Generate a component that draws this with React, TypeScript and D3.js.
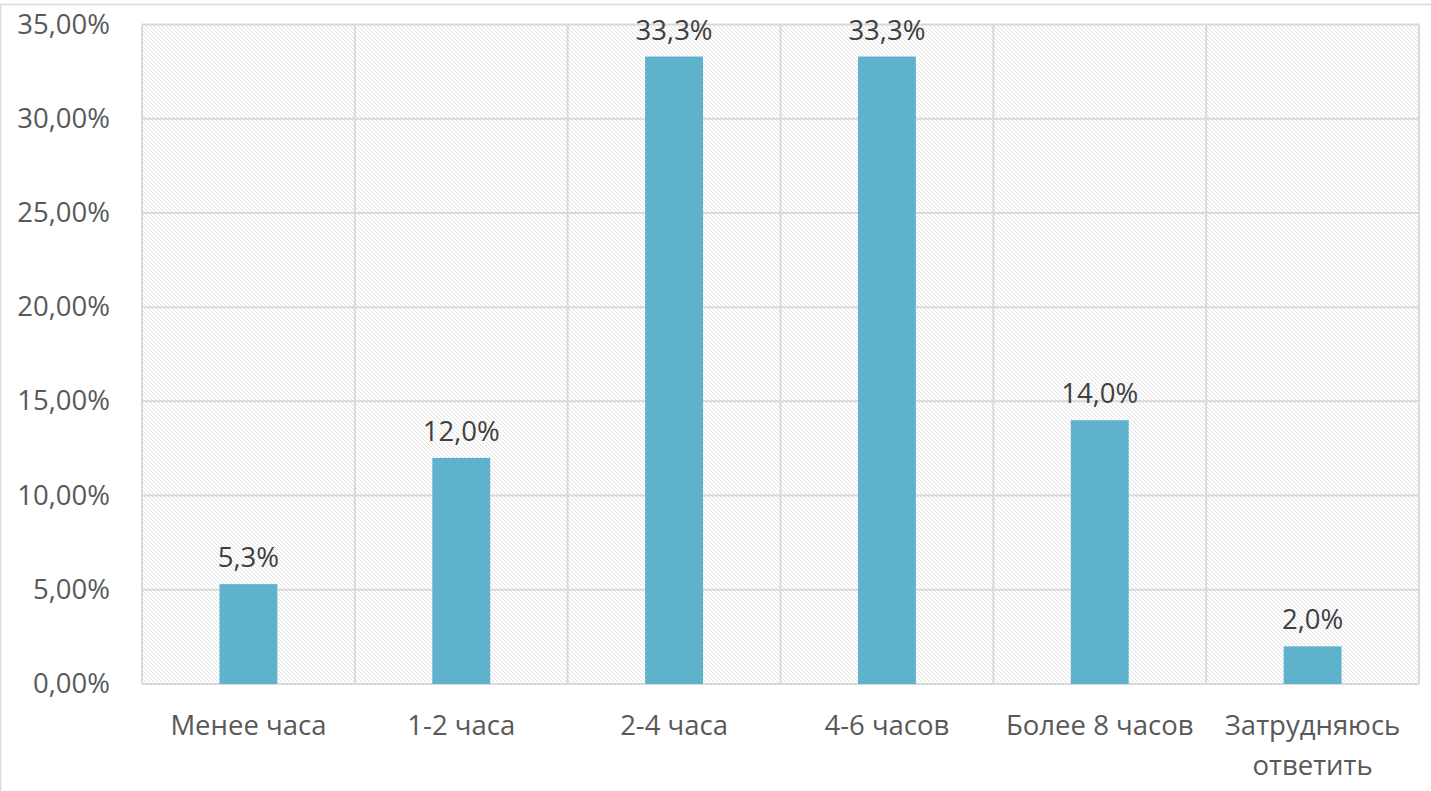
import React from 'react';
import * as d3 from 'd3';

const categories = ['Менее часа', '1-2 часа', '2-4 часа', '4-6 часов', 'Более 8 часов', 'Затрудняюсь ответить'];
const values = [5.3, 12.0, 33.3, 33.3, 14.0, 2.0];
const yTicks = [0, 5, 10, 15, 20, 25, 30, 35];

const W = 1431;
const H = 791;
const margin = { top: 24.5, right: 12, bottom: 107, left: 142 };
const font = '"Open Sans", "Noto Sans", sans-serif';

// split long category labels the way Excel wraps them
function wrapLabel(s: string): string[] {
  if (s.length > 14) return s.split(' ');
  return [s];
}

const App = () => {
  const x = d3.scaleBand().domain(categories).range([margin.left, W - margin.right]).paddingInner(0).paddingOuter(0);
  const y = d3.scaleLinear().domain([0, 35]).range([H - margin.bottom, margin.top]);
  const barW = x.bandwidth() * 0.272;
  const fmtTick = (v: number) => v.toFixed(2).replace('.', ',') + '%';
  const fmtVal = (v: number) => v.toFixed(1).replace('.', ',') + '%';

  return (
    <svg width={W} height={H} style={{ display: 'block', position: 'absolute', left: 0, top: 0 }}>
      <defs>
        <pattern id="hatch" width="4" height="4" patternUnits="userSpaceOnUse">
          <path d="M-1,-1 L5,5 M3,-1 L5,1 M-1,3 L1,5" stroke="#e0e0e0" strokeWidth="1" />
        </pattern>
      </defs>
      <rect x={0} y={0} width={W} height={H} fill="#fff" />
      <rect x={0.5} y={4.5} width={W + 2} height={H} fill="none" stroke="#d9d9d9" strokeWidth={1.5} />
      <rect x={margin.left} y={margin.top} width={W - margin.left - margin.right} height={H - margin.top - margin.bottom} fill="url(#hatch)" />
      {yTicks.map(t => (
        <line key={t} x1={margin.left} x2={W - margin.right} y1={y(t)} y2={y(t)} stroke="#d9d9d9" strokeWidth={2} />
      ))}
      {categories.map(c => (
        <line key={c} x1={x(c)!} x2={x(c)!} y1={margin.top} y2={H - margin.bottom} stroke="#d9d9d9" strokeWidth={2} />
      ))}
      <line x1={W - margin.right} x2={W - margin.right} y1={margin.top} y2={H - margin.bottom} stroke="#d9d9d9" strokeWidth={2} />
      {yTicks.map(t => (
        <text key={t} x={110} y={y(t) + 9} textAnchor="end" fontFamily={font} fontSize={27.5} fill="#595959">
          {fmtTick(t)}
        </text>
      ))}
      {values.map((v, i) => {
        const cx = x(categories[i])! + x.bandwidth() / 2;
        return (
          <g key={i}>
            <rect x={cx - barW / 2} y={y(v)} width={barW} height={y(0) - y(v)} fill="#5fb2cc" />
            <text x={cx} y={y(v) - 17} textAnchor="middle" fontFamily={font} fontSize={27.5} fill="#404040">
              {fmtVal(v)}
            </text>
          </g>
        );
      })}
      {categories.map(c => {
        const cx = x(c)! + x.bandwidth() / 2;
        return (
          <text key={c} x={cx} y={735} textAnchor="middle" fontFamily={font} fontSize={27.5} fill="#595959">
            {wrapLabel(c).map((l, j) => (
              <tspan key={j} x={cx} dy={j === 0 ? 0 : 40}>{l}</tspan>
            ))}
          </text>
        );
      })}
    </svg>
  );
};

export default App;
